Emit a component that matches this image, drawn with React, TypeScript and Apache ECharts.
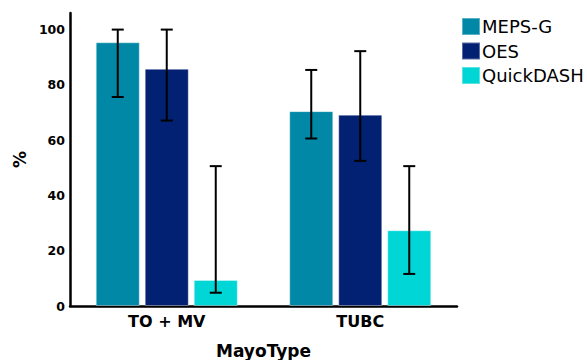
import React, { useEffect, useRef } from "react";
import * as echarts from "echarts";

const categories = ["TO + MV", "TUBC"];
const seriesNames = ["MEPS-G", "OES", "QuickDASH"];
const colors = ["#0088a6", "#022172", "#00d6d6"];
const meanMEPS = [95.4, 70.5];
const meanOES = [85.8, 69.2];
const meanQuick = [9.4, 27.4];
const errMEPS = [[75.6, 100], [60.6, 85.4]];
const errOES = [[67.1, 100], [52.5, 92.2]];
const errQuick = [[4.8, 50.6], [11.6, 50.6]];

const BAR_W = 44;
const BAR_GAP = 5;
const FONT = "DejaVu Sans";

export default function App() {
  const ref = useRef<HTMLDivElement>(null);
  useEffect(() => {
    const chart = echarts.init(ref.current!, null, { renderer: "svg" });
    const means = [meanMEPS, meanOES, meanQuick];
    const errs = [errMEPS, errOES, errQuick];
    const barSeries = seriesNames.map((name, i) => ({
      name,
      type: "bar",
      data: means[i],
      barWidth: BAR_W,
      barGap: (BAR_GAP / BAR_W) * 100 + "%",
      itemStyle: { color: colors[i], borderColor: "rgba(255,255,255,0.35)", borderWidth: 1 },
      z: 2,
    }));
    const errSeries = seriesNames.map((name, i) => ({
      name: name + "-err",
      type: "custom",
      data: errs[i].map((e, j) => [j, e[0], e[1]]),
      z: 5,
      renderItem: (params: any, api: any) => {
        const c = api.value(0);
        const lo = api.coord([c, api.value(1)]);
        const hi = api.coord([c, api.value(2)]);
        const x = lo[0] + (i - 1) * (BAR_W + BAR_GAP);
        const cap = 6;
        const style = { stroke: "#000", lineWidth: 2 };
        return {
          type: "group",
          children: [
            { type: "line", shape: { x1: x, y1: lo[1], x2: x, y2: hi[1] }, style },
            { type: "line", shape: { x1: x - cap, y1: lo[1], x2: x + cap, y2: lo[1] }, style },
            { type: "line", shape: { x1: x - cap, y1: hi[1], x2: x + cap, y2: hi[1] }, style },
          ],
        };
      },
    }));
    chart.setOption({
      animation: false,
      grid: { left: 70, right: 130, top: 13, bottom: 54, outerBoundsMode: "none", containLabel: false },
      legend: {
        data: seriesNames,
        orient: "vertical",
        left: 461,
        top: 17,
        itemWidth: 18,
        itemHeight: 17,
        itemGap: 5.5,
        icon: "rect",
        padding: 0,
        textStyle: { fontFamily: FONT, fontSize: 18, color: "#000", lineHeight: 17, padding: [0, 0, 0, -3] },
      },
      xAxis: {
        type: "category",
        data: categories,
        name: "MayoType",
        nameLocation: "middle",
        nameGap: 36,
        nameTextStyle: { fontFamily: FONT, fontWeight: "bold", fontSize: 17, color: "#000" },
        axisLine: { lineStyle: { color: "#000", width: 2.5 } },
        axisTick: { show: false },
        axisLabel: { fontFamily: FONT, fontWeight: "bold", fontSize: 16, color: "#000", margin: 7 },
      },
      yAxis: {
        type: "value",
        min: 0,
        max: 106,
        interval: 20,
        name: "%",
        nameLocation: "middle",
        nameGap: 42,
        nameTextStyle: { fontFamily: FONT, fontWeight: "bold", fontSize: 17, color: "#000" },
        axisLine: { show: true, lineStyle: { color: "#000", width: 2.5 } },
        axisTick: { show: false },
        splitLine: { show: false },
        axisLabel: {
          fontFamily: FONT,
          fontWeight: "bold",
          fontSize: 12.5,
          color: "#000",
          margin: 5,
          showMaxLabel: false,
        },
      },
      series: [...barSeries, ...errSeries],
    });
    return () => chart.dispose();
  }, []);
  return <div ref={ref} style={{ width: 587, height: 360, position: "absolute", left: 0, top: 0 }} />;
}
